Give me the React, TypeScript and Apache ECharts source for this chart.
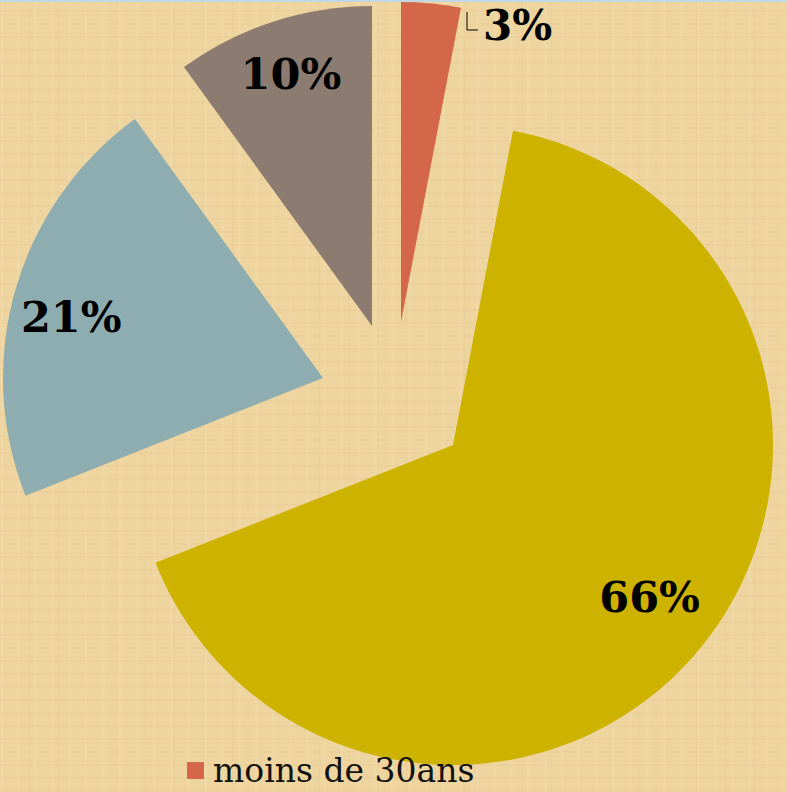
import React, { useEffect, useRef } from 'react';
import * as echarts from 'echarts';

// Data
const categories = ['moins de 30ans', 'de 30 à 45ans', 'de 45 à 60ans', 'plus de 60ans'];
const values = [3, 66, 21, 10];
const colors = ['#D4664A', '#CDB300', '#8DADB0', '#8C7B70'];

// Layout (exploded slices: each slice has its own apex)
const R = 320;
const centers: [number, number][] = [
  [401, 322],
  [453, 445],
  [323, 378],
  [372, 326],
];
const labelOffsets: [number, number][] = [
  [0, 0],
  [-3, -13],
  [-3, 11],
  [-1, -6],
];

const labelFont = 'DejaVu Serif';

export default function App() {
  const ref = useRef<HTMLDivElement>(null);

  useEffect(() => {
    if (!ref.current) return;
    const chart = echarts.init(ref.current, undefined, { renderer: 'svg' });

    const sliceSeries = values.map((_, i) => ({
      type: 'pie',
      name: 'slice' + i,
      center: centers[i],
      radius: [0, R],
      startAngle: 90,
      clockwise: true,
      silent: true,
      avoidLabelOverlap: false,
      label: { show: false },
      labelLine: { show: false },
      emphasis: { disabled: true },
      data: values.map((v, j) => ({
        name: categories[j],
        value: v,
        itemStyle: { color: j === i ? colors[j] : 'rgba(0,0,0,0)' },
      })),
    }));

    const labelSeries = values
      .map((_, i) => i)
      .filter((i) => i !== 0)
      .map((i) => ({
        type: 'pie',
        name: 'label' + i,
        center: centers[i],
        radius: [R * 0.6, R],
        startAngle: 90,
        clockwise: true,
        silent: true,
        avoidLabelOverlap: false,
        labelLine: { show: false },
        emphasis: { disabled: true },
        label: { show: false },
        data: values.map((v, j) => ({
          name: categories[j],
          value: v,
          itemStyle: { color: 'rgba(0,0,0,0)' },
          label: {
            show: j === i,
            position: 'inside',
            formatter: '{c}%',
            fontFamily: labelFont,
            fontWeight: 'bold',
            fontSize: 43,
            color: '#000',
            offset: labelOffsets[j],
          },
        })),
      }));

    chart.setOption({
      animation: false,
      backgroundColor: 'transparent',
      legend: {
        data: [categories[0]],
        left: 187,
        top: 754,
        padding: 0,
        icon: 'rect',
        itemWidth: 17,
        itemHeight: 17,
        selectedMode: false,
        textStyle: {
          fontFamily: labelFont,
          fontSize: 33,
          lineHeight: 33,
          color: '#111',
          padding: [0, 0, 0, 4],
        },
      },
      series: [...sliceSeries, ...labelSeries],
      graphic: [
        {
          type: 'polyline',
          shape: { points: [[467, 12], [467, 30], [478, 30]] },
          style: { stroke: '#000', lineWidth: 1, fill: 'none' },
          z: 50,
        },
        {
          type: 'text',
          x: 483,
          y: 25,
          style: {
            text: values[0] + '%',
            fontFamily: labelFont,
            fontWeight: 'bold',
            fontSize: 42,
            fill: '#000',
            verticalAlign: 'middle',
          },
          z: 50,
        },
        {
          type: 'rect',
          shape: { x: 0, y: 0, width: 787, height: 2 },
          style: { fill: '#C2D6E4' },
          z: 100,
        },
      ],
    });

    return () => chart.dispose();
  }, []);

  return (
    <div
      style={{
        position: 'fixed',
        left: 0,
        top: 0,
        width: 787,
        height: 792,
        overflow: 'hidden',
        backgroundColor: '#EED49E',
        backgroundImage:
          'repeating-linear-gradient(0deg, rgba(190,150,90,0.07) 0px, rgba(190,150,90,0.07) 2px, rgba(0,0,0,0) 2px, rgba(0,0,0,0) 13px),' +
          'repeating-linear-gradient(90deg, rgba(255,240,210,0.14) 0px, rgba(255,240,210,0.14) 3px, rgba(0,0,0,0) 3px, rgba(0,0,0,0) 17px),' +
          'repeating-linear-gradient(90deg, rgba(180,140,80,0.06) 0px, rgba(180,140,80,0.06) 1px, rgba(0,0,0,0) 1px, rgba(0,0,0,0) 29px)',
      }}
    >
      <div ref={ref} style={{ width: 787, height: 792 }} />
    </div>
  );
}
